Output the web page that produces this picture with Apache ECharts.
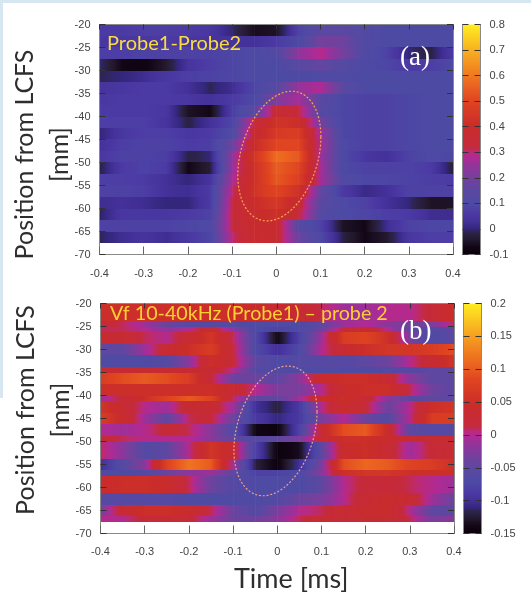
<!DOCTYPE html>
<html><head><meta charset="utf-8">
<style>html,body{margin:0;padding:0;background:#fff}#chart{width:531px;height:595px;filter:blur(.45px)}</style>
<script src="https://cdn.jsdelivr.net/npm/echarts@6/dist/echarts.min.js"></script>
</head><body><div id="chart"></div>
<script>
// time columns [ms]
const timeColumns = [-0.4,-0.35,-0.3,-0.25,-0.2,-0.15,-0.1,-0.05,0,0.05,0.1,0.15,0.2,0.25,0.3,0.35,0.4];
// depth bin edges [mm]
const depthEdgesA = [-20,-22.5,-25,-27.5,-30,-32.5,-35,-37.5,-40,-42.5,-45,-47.5,-50,-52.5,-55,-57.5,-60,-62.5,-65,-67.5];
const depthEdgesB = [-20,-23.75,-25,-26.25,-28.75,-31.25,-33.75,-35,-37.5,-40,-41.25,-43.75,-46.25,-48.75,-50,-53.75,-56.25,-57.5,-61.25,-63.75,-66.25,-67.5];
// panel (a) values
const valuesA = [
[.06,.06,.07,.07,.06,.05,.0,-.06,-.05,.08,.15,.15,.12,.1,.1,.1,.1],
[.05,.05,.05,.06,.05,.04,.03,.03,.06,.1,.2,.19,.12,.1,.1,.1,.1],
[.07,.07,.08,.08,.08,.08,.09,.1,.12,.24,.29,.2,.12,.08,.0,-.02,.06],
[.0,-.07,-.08,-.04,.04,.07,.09,.1,.1,.14,.17,.13,.1,.09,.06,.07,.1],
[-.01,.0,.02,.05,.07,.08,.09,.1,.1,.1,.11,.11,.1,.1,.1,.1,.1],
[.04,.05,.06,.06,.03,-.01,.02,.09,.14,.25,.28,.15,.1,.1,.1,.1,.1],
[.05,.06,.06,.06,.05,.03,.06,.1,.22,.27,.15,.09,.08,.08,.09,.1,.1],
[.06,.06,.06,.05,-.05,-.07,.07,.15,.36,.33,.14,.09,.08,.08,.09,.1,.1],
[.07,.07,.07,.04,-.02,.03,.09,.33,.43,.41,.2,.09,.08,.08,.09,.1,.1],
[.0,.05,.07,.07,.05,.06,.11,.36,.46,.47,.26,.09,.08,.08,.09,.1,.1],
[.03,.07,.08,.08,.06,.07,.18,.4,.5,.5,.27,.1,.08,.08,.09,.1,.1],
[.05,.08,.08,.07,-.02,.0,.24,.44,.58,.54,.26,.1,.05,.03,.08,.1,.09],
[-.02,.06,.08,.06,-.07,-.03,.25,.42,.55,.5,.27,.1,.08,.08,.08,.06,-.03],
[.07,.07,.06,.03,.0,.04,.27,.42,.54,.48,.27,.12,.09,.09,.08,.07,.06],
[.08,.08,.07,.03,.02,.06,.3,.43,.5,.42,.17,.06,.01,.03,.08,.08,.08],
[.02,.03,.02,.0,.0,.06,.32,.4,.45,.36,.15,.1,.08,.03,.0,-.05,-.05],
[-.01,.05,.05,.05,.06,.08,.33,.38,.42,.34,.13,.1,.09,.07,.06,.02,.02],
[.08,.08,.08,.08,.09,.1,.32,.38,.38,.14,.08,-.05,-.07,.02,.08,.09,.09],
[-.01,.02,.04,.02,.05,.09,.3,.38,.36,.18,.1,-.02,-.07,-.04,.05,.07,.07]
];
// panel (b) values
const valuesB = [
[.05,.05,.05,.05,.05,.05,.05,.04,.03,.03,.01,-.01,-.01,.0,.0,.02,.05],
[.02,.01,-.01,-.04,-.06,-.06,-.06,-.07,-.07,-.07,-.05,-.01,.0,-.02,-.04,-.03,.01],
[.01,.01,.0,-.02,.0,.03,-.02,-.07,-.08,-.07,-.04,.02,.03,.0,-.05,-.06,-.05],
[.03,.03,.01,.0,.03,.06,.01,-.07,-.14,-.08,-.01,.07,.08,.05,-.03,-.07,-.05],
[-.05,-.05,-.01,.03,.05,.07,.02,-.07,-.1,-.07,.0,.03,.05,.06,.06,.07,.09],
[-.07,-.07,-.07,-.06,-.02,.05,.02,-.05,-.07,-.06,-.06,-.06,-.05,-.04,.0,.03,.06],
[.03,.03,.03,.03,.03,.03,.0,-.06,-.07,-.07,-.07,-.07,-.07,-.06,-.06,-.05,-.05],
[.07,.09,.1,.09,.07,.02,-.04,-.04,-.05,-.02,.04,.05,.05,.03,-.02,-.05,-.05],
[.05,.05,.05,.05,.05,.05,.03,.0,-.03,-.03,.0,.04,.05,.05,.01,-.04,-.05],
[-.01,.02,.05,.08,.1,.08,.01,-.05,-.05,-.01,.04,.05,.03,-.02,-.05,-.05,-.05],
[.06,.03,.0,-.01,.03,.03,-.01,-.1,-.12,-.09,.0,.04,.02,-.04,.0,.05,.06],
[.07,.04,-.01,-.05,.01,.02,-.04,-.09,-.11,-.09,-.03,.0,-.04,-.06,.0,.07,.07],
[.0,-.01,.0,.02,.01,-.02,-.06,-.14,-.145,-.08,.03,.09,.1,.04,-.05,-.06,-.06],
[.02,.01,.0,.0,.0,-.02,-.05,-.06,-.05,-.03,.03,.05,.05,.04,.03,.03,.03],
[.01,-.02,-.06,-.05,.0,.06,.03,-.08,-.145,-.135,-.05,.04,.05,.03,-.01,.02,.03],
[-.1,-.06,-.02,.08,.12,.1,-.01,-.12,-.145,-.1,-.03,.09,.11,.1,.08,.07,.05],
[-.07,-.07,-.06,-.04,-.02,-.01,-.05,-.08,-.08,-.07,-.02,.05,.06,.06,.05,.05,.05],
[.04,.05,.05,.04,.01,-.04,-.06,-.07,-.07,-.07,-.05,.0,.02,.02,.01,.0,-.01],
[-.06,-.06,-.06,-.06,-.07,-.07,-.07,-.07,-.06,-.04,-.03,.0,.03,.04,.03,-.01,-.04],
[-.03,.03,.05,.05,.04,.01,-.04,-.06,-.03,.0,.01,.03,.04,.04,.0,-.05,-.05],
[.0,.0,.02,.03,.02,-.01,-.04,-.04,-.02,.01,.03,.02,.03,.03,.01,-.03,-.02]
];
// colour scale: [fraction, colour]
const palette = [[0,'#0a000a'],[.033,'#120616'],[.067,'#241a2e'],[.1,'#2e2550'],[.11,'#33267a'],[.144,'#44319a'],[.178,'#4c3aa4'],[.222,'#4d4aa4'],[.278,'#5a48a2'],[.333,'#74409c'],[.389,'#94339a'],[.422,'#b02a94'],[.444,'#bb2a7a'],[.467,'#c52a3c'],[.556,'#c92c2a'],[.667,'#e04420'],[.778,'#f07820'],[.889,'#f8b020'],[1,'#ffee20']];
const rangeA = [-0.1,0.8], rangeB = [-0.15,0.2];
// guide ellipses: centre t, centre depth, half-width, half-height, phase
const ellipseA = [0.007,-48.6,0.094,14.1,0.3];
const ellipseB = [-0.004,-47.7,0.094,14.1,0.3];
const depthRange = [-70,-20], timeRange = [-0.4,0.4];

const hex = c => [1,3,5].map(i => parseInt(c.slice(i,i+2),16));
const pal = palette.map(p => [p[0],hex(p[1])]);
function colorAt(t){
  t = Math.max(0,Math.min(1,t));
  for(let i=1;i<pal.length;i++){
    if(t<=pal[i][0]){
      const f=(t-pal[i-1][0])/(pal[i][0]-pal[i-1][0]);
      const m=pal[i-1][1].map((a,k)=>Math.round(a+(pal[i][1][k]-a)*f));
      return `rgb(${m.join(',')})`;
    }
  }
  return palette[palette.length-1][1];
}
function cells(vals,edges){
  const out=[];
  vals.forEach((row,r)=>{ for(let c=0;c<row.length-1;c++)
    out.push([timeColumns[c],edges[r],timeColumns[c+1],edges[r+1],row[c],row[c+1]]); });
  return out;
}
const heat = (range) => (params,api) => {
  const p0=api.coord([api.value(0),api.value(1)]), p1=api.coord([api.value(2),api.value(3)]);
  const v0=api.value(4), v1=api.value(5), stops=[];
  for(let i=0;i<=6;i++){ const v=v0+(v1-v0)*i/6;
    stops.push({offset:i/6,color:colorAt((v-range[0])/(range[1]-range[0]))}); }
  const y0=Math.round(p0[1]), y1=Math.round(p1[1]);
  return {type:'rect',shape:{x:p0[0],y:y0,width:p1[0]-p0[0]+.6,height:y1-y0},
    style:{fill:new echarts.graphic.LinearGradient(0,0,1,0,stops)}};
};
const ell = (color) => (params,api) => {
  const [cx,cy,a,b,ph]=[0,1,2,3,4].map(i=>api.value(i)), pts=[];
  for(let i=0;i<=96;i++){ const t=i/96*2*Math.PI; pts.push(api.coord([cx+a*Math.cos(t),cy+b*Math.sin(t+ph)])); }
  return {type:'polyline',shape:{points:pts},style:{fill:null,stroke:color,lineWidth:1.2,lineDash:[2,1.8]}};
};
const barItem = (params,api) => {
  const p0=api.coord([api.value(0),api.value(1)]), p1=api.coord([api.value(2),api.value(3)]);
  return {type:'rect',shape:{x:p0[0],y:p1[1],width:p1[0]-p0[0],height:p0[1]-p1[1]},
    style:{fill:new echarts.graphic.LinearGradient(0,1,0,0,palette.map(p=>({offset:p[0],color:p[1]})))}};
};
const lineC='#8a8a8a', tickC='#333', labC='#444';
const grids=[
 {left:99.5,top:24.5,width:353.5,height:230,outerBoundsMode:'none',containLabel:false},
 {left:100.5,top:303.5,width:353.5,height:230,outerBoundsMode:'none',containLabel:false},
 {left:462.5,top:24.5,width:18,height:230,outerBoundsMode:'none',containLabel:false},
 {left:463.5,top:303.5,width:18,height:230,outerBoundsMode:'none',containLabel:false}
];
const labelFont={fontFamily:'Liberation Sans',fontSize:11,color:labC};
const nameFont={fontFamily:'Lato',fontSize:25,color:'#2e2e2e',lineHeight:35};
const xAxis=[],yAxis=[];
function xA(g,pos,labels,extra){xAxis.push(Object.assign({type:'value',gridIndex:g,position:pos,min:timeRange[0],max:timeRange[1],interval:0.1,z:5,
  axisLine:{show:true,onZero:false,lineStyle:{color:lineC}},axisTick:{show:true,inside:true,length:pos==='bottom'?8:5,lineStyle:{color:pos==='bottom'?'#666':tickC}},
  splitLine:{show:false},axisLabel:Object.assign({show:labels,margin:14},labelFont)},extra||{}));}
function yA(g,pos,labels,extra){yAxis.push(Object.assign({type:'value',gridIndex:g,position:pos,min:depthRange[0],max:depthRange[1],interval:5,z:5,
  axisLine:{show:true,onZero:false,lineStyle:{color:lineC}},axisTick:{show:true,inside:true,length:6,lineStyle:{color:tickC}},
  splitLine:{show:false},axisLabel:Object.assign({show:labels,margin:9},labelFont)},extra||{}));}
// x axes 0:a bottom 1:a top 2:b bottom 3:b top 4:cbar a 5:cbar b
xA(0,'bottom',true); xA(0,'top',false);
xA(1,'bottom',true,{name:'Time [ms]',nameLocation:'middle',nameGap:28,nameTextStyle:Object.assign({padding:[0,0,0,28]},nameFont,{fontSize:27}),axisLabel:Object.assign({show:true,margin:13},labelFont)});
xA(1,'top',false);
[2,3].forEach(g=>xAxis.push({type:'value',gridIndex:g,min:0,max:1,z:5,axisLine:{show:false},axisTick:{show:false},axisLabel:{show:false},splitLine:{show:false}}));
// y axes 0:a left 1:a right 2:b left 3:b right 4,5:cbar a 6,7:cbar b
yA(0,'left',true,{name:'Position from LCFS\n[mm]',nameLocation:'middle',nameRotate:90,nameGap:22,nameMoveOverlap:false,nameTextStyle:Object.assign({padding:[0,30,0,0]},nameFont)});
yA(0,'right',false);
yA(1,'left',true,{name:'Position from LCFS\n[mm]',nameLocation:'middle',nameRotate:90,nameGap:22,nameMoveOverlap:false,nameTextStyle:Object.assign({padding:[0,0,0,17]},nameFont)});
yA(1,'right',false);
function cbAxes(g,range,iv){
  yA(g,'left',false,{min:range[0],max:range[1],interval:iv});
  yA(g,'right',true,{min:range[0],max:range[1],interval:iv});
}
cbAxes(2,rangeA,0.1); cbAxes(3,rangeB,0.05);
const text=(x,y,s,fill,font,size)=>({type:'text',x,y,z:20,style:{text:s,fill,fontFamily:font,fontSize:size,verticalAlign:'middle'}});
const option={
 animation:false,backgroundColor:'#fff',grid:grids,xAxis,yAxis,
 series:[
  {type:'custom',name:'Probe1-Probe2',xAxisIndex:0,yAxisIndex:0,renderItem:heat(rangeA),data:cells(valuesA,depthEdgesA),z:2,silent:true},
  {type:'custom',name:'Vf 10-40kHz (Probe1) – probe 2',xAxisIndex:2,yAxisIndex:2,renderItem:heat(rangeB),data:cells(valuesB,depthEdgesB),z:2,silent:true},
  {type:'custom',xAxisIndex:0,yAxisIndex:0,renderItem:ell('#f6a850'),data:[ellipseA],z:3,silent:true},
  {type:'custom',xAxisIndex:2,yAxisIndex:2,renderItem:ell('#f2a08c'),data:[ellipseB],z:3,silent:true},
  {type:'custom',xAxisIndex:4,yAxisIndex:4,renderItem:barItem,data:[[0,rangeA[0],1,rangeA[1]]],z:2,silent:true},
  {type:'custom',xAxisIndex:5,yAxisIndex:6,renderItem:barItem,data:[[0,rangeB[0],1,rangeB[1]]],z:2,silent:true}
 ],
 graphic:[
  {type:'rect',shape:{x:0,y:0,width:531,height:3},style:{fill:'#d6e7f2'},z:1},
  {type:'rect',shape:{x:0,y:0,width:3,height:398},style:{fill:'#d6e7f2'},z:1},
  text(107,44,'Probe1-Probe2','#f8dc40','Lato',20),
  text(110,314,'Vf 10-40kHz (Probe1) – probe 2','#fbd030','Lato',19.7),
  text(400,58,'(a)','#fff','Liberation Serif',27),
  text(400,332,'(b)','#fff','Liberation Serif',27)
 ]
};
echarts.init(document.getElementById('chart'),null,{renderer:'canvas'}).setOption(option);
</script></body></html>
